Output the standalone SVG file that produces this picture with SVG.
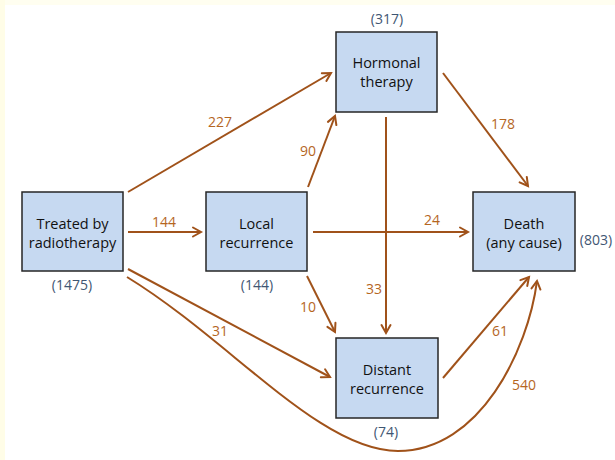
<svg xmlns="http://www.w3.org/2000/svg" width="615" height="460" viewBox="0 0 615 460">
  <style>
    .box { fill: #C6D9F1; stroke: #262626; stroke-width: 1.5; }
    .name { font-family: "Open Sans", "Liberation Sans", sans-serif; font-size: 14.5px; fill: #111111; text-anchor: middle; }
    .count { font-family: "Open Sans", "Liberation Sans", sans-serif; font-size: 14px; fill: #3F5673; text-anchor: middle; }
    .flow { fill: none; stroke: #A0521A; stroke-width: 2; marker-end: url(#arrow); }
    .num { font-family: "Open Sans", "Liberation Sans", sans-serif; font-size: 14px; fill: #B5661F; text-anchor: middle; }
  </style>
  <defs>
    <marker id="arrow" markerUnits="userSpaceOnUse" markerWidth="14" markerHeight="14" viewBox="-10 -7 12 14" refX="0" refY="0" orient="auto">
      <path d="M-8,-4.5 L0,0 L-8,4.5" fill="none" stroke="#A0521A" stroke-width="2" stroke-linecap="round" stroke-linejoin="miter"/>
    </marker>
  </defs>

  <!-- page background with pale margin strips -->
  <rect x="0" y="0" width="615" height="460" fill="#FFFFFF"/>
  <rect x="0" y="0" width="615" height="5" fill="#FFFEF0"/>
  <rect x="0" y="0" width="5" height="460" fill="#FFFDE7"/>

  <!-- transitions between states -->
  <g id="connectors">
    <line class="flow" x1="128" y1="192" x2="331" y2="73"/>
    <line class="flow" x1="128" y1="232" x2="201" y2="232"/>
    <line class="flow" x1="308" y1="187" x2="335" y2="116"/>
    <line class="flow" x1="313" y1="232" x2="468" y2="232"/>
    <line class="flow" x1="443" y1="73" x2="528" y2="186"/>
    <line class="flow" x1="386" y1="117" x2="386" y2="333"/>
    <line class="flow" x1="307" y1="276" x2="335" y2="332"/>
    <line class="flow" x1="128" y1="269" x2="330" y2="377"/>
    <line class="flow" x1="443" y1="378" x2="529" y2="277"/>
    <path class="flow" d="M127,277 C230,340 320,451 398,451 C480,451 528,350 537,281"/>

    <text class="num" x="220" y="127">227</text>
    <text class="num" x="164" y="227">144</text>
    <text class="num" x="308" y="156">90</text>
    <text class="num" x="432" y="225">24</text>
    <text class="num" x="503" y="129">178</text>
    <text class="num" x="374" y="294">33</text>
    <text class="num" x="308" y="312">10</text>
    <text class="num" x="220" y="336">31</text>
    <text class="num" x="500" y="336">61</text>
    <text class="num" x="524" y="390">540</text>
  </g>

  <g id="treated">
    <rect class="box" x="22" y="192" width="101" height="79"/>
    <text class="name" x="72.5" y="229">Treated by</text>
    <text class="name" x="72.5" y="248">radiotherapy</text>
    <text class="count" x="72" y="290">(1475)</text>
  </g>

  <g id="local">
    <rect class="box" x="206" y="192" width="101" height="79"/>
    <text class="name" x="256.5" y="229">Local</text>
    <text class="name" x="256.5" y="248">recurrence</text>
    <text class="count" x="257" y="290">(144)</text>
  </g>

  <g id="hormonal">
    <rect class="box" x="336" y="32" width="101" height="80"/>
    <text class="name" x="386.5" y="68">Hormonal</text>
    <text class="name" x="386.5" y="87">therapy</text>
    <text class="count" x="387" y="24">(317)</text>
  </g>

  <g id="death">
    <rect class="box" x="473" y="192" width="102" height="79"/>
    <text class="name" x="524" y="229">Death</text>
    <text class="name" x="524" y="248">(any cause)</text>
    <text class="count" x="596" y="245">(803)</text>
  </g>

  <g id="distant">
    <rect class="box" x="336" y="338" width="102" height="80"/>
    <text class="name" x="387" y="375">Distant</text>
    <text class="name" x="387" y="394">recurrence</text>
    <text class="count" x="386" y="437">(74)</text>
  </g>
</svg>
